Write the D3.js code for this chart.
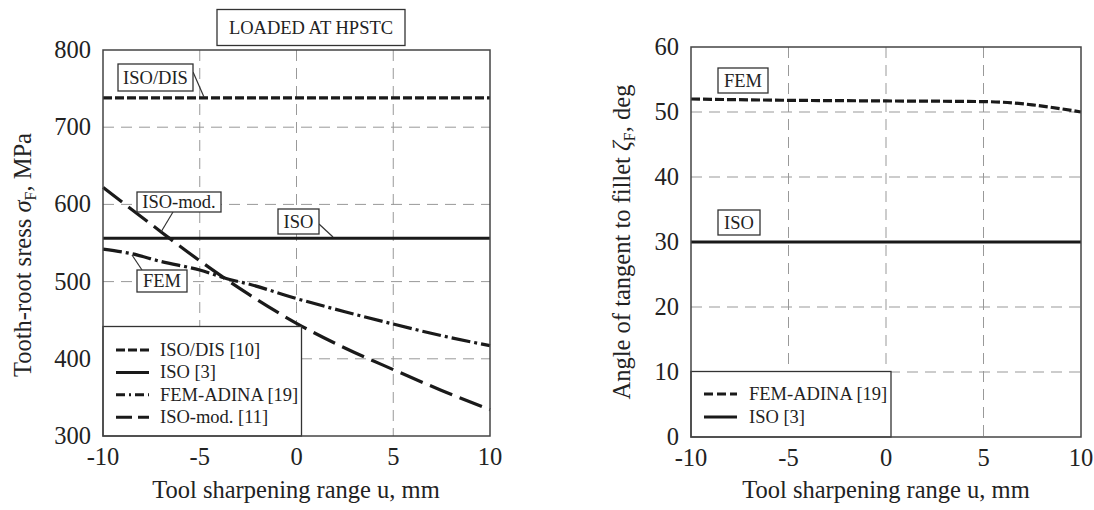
<!DOCTYPE html>
<html><head><meta charset="utf-8">
<script src="https://cdn.jsdelivr.net/npm/d3@7"></script>
<style>
body{margin:0;background:#fff;}
text{font-family:"Liberation Serif","Times New Roman",serif;fill:#222;}
</style></head>
<body><svg id="c" width="1094" height="510"></svg>
<script>
// ---- data ----
const uTicks = [-10, -5, 0, 5, 10];
const stressTicks = [300, 400, 500, 600, 700, 800];
const angleTicks = [0, 10, 20, 30, 40, 50, 60];

const isoDisU = [-10, 10];
const isoDisStress = [738, 738];
const isoU = [-10, 10];
const isoStress = [556, 556];
const femU = [-10, -8.5, -7, -5, -3.5, -2.5, 0, 2.5, 5, 7.5, 10];
const femStress = [542, 536, 526, 515, 503, 497, 478, 461, 445, 430, 417];
const isoModU = [-10, -7.5, -5, -2.5, 0, 2.5, 5, 7.5, 10];
const isoModStress = [622, 574, 527, 484, 446, 414, 386, 359, 334];

const femAngleU = [-10, -5, 0, 5, 6, 7.5, 10];
const femAngle = [52.0, 51.8, 51.7, 51.6, 51.5, 51.1, 50.0];
const isoAngleU = [-10, 10];
const isoAngle = [30, 30];

const leftLegend = ["ISO/DIS [10]", "ISO [3]", "FEM-ADINA [19]", "ISO-mod. [11]"];
const rightLegend = ["FEM-ADINA [19]", "ISO [3]"];

// ---- drawing ----
const svg = d3.select("#c");
const DASH = {isodis:"9,3", solid:null, dashdot:"19,4,3,4", longdash:"24,8", fem:"9,3"};
const FS = 24.5;

function panel(x0, x1, y0, y1, yDomain, yTicks) {
  const x = d3.scaleLinear().domain([-10, 10]).range([x0, x1]);
  const y = d3.scaleLinear().domain(yDomain).range([y1, y0]);
  const g = svg.append("g");
  g.selectAll(".gx").data(uTicks.slice(1, -1)).join("line")
    .attr("x1", d => x(d)).attr("x2", d => x(d)).attr("y1", y0).attr("y2", y1)
    .attr("stroke", "#999").attr("stroke-width", 1).attr("stroke-dasharray", "11,7");
  g.selectAll(".gy").data(yTicks.slice(1, -1)).join("line")
    .attr("y1", d => y(d)).attr("y2", d => y(d)).attr("x1", x0).attr("x2", x1)
    .attr("stroke", "#999").attr("stroke-width", 1).attr("stroke-dasharray", "11,7");
  g.selectAll(".tx").data(uTicks).join("text")
    .attr("x", d => x(d)).attr("y", y1 + 29).attr("text-anchor", "middle")
    .attr("font-size", FS).text(d => d);
  g.selectAll(".ty").data(yTicks).join("text")
    .attr("x", x0 - 12).attr("y", d => y(d) + 8).attr("text-anchor", "end")
    .attr("font-size", FS).text(d => d);
  return {x, y, g};
}

function series(p, xs, ys, dash, w) {
  const line = d3.line().x(d => p.x(d[0])).y(d => p.y(d[1])).curve(d3.curveMonotoneX);
  p.g.append("path").datum(xs.map((v, i) => [v, ys[i]]))
    .attr("d", line).attr("fill", "none").attr("stroke", "#1a1a1a")
    .attr("stroke-width", w).attr("stroke-dasharray", dash);
}

function box(g, x, y, w, h, label, fs) {
  g.append("rect").attr("x", x).attr("y", y).attr("width", w).attr("height", h)
    .attr("fill", "#fff").attr("stroke", "#333").attr("stroke-width", 1.3);
  g.append("text").attr("x", x + w / 2).attr("y", y + h / 2 + fs * 0.33)
    .attr("text-anchor", "middle").attr("font-size", fs).text(label);
}
function leader(g, x1, y1, x2, y2) {
  g.append("line").attr("x1", x1).attr("y1", y1).attr("x2", x2).attr("y2", y2)
    .attr("stroke", "#333").attr("stroke-width", 1.2);
}

// Left panel
const L = panel(103, 490, 50, 436, [300, 800], stressTicks);
series(L, isoDisU, isoDisStress, DASH.isodis, 3.2);
series(L, isoU, isoStress, DASH.solid, 3);
series(L, femU, femStress, DASH.dashdot, 3.2);
series(L, isoModU, isoModStress, DASH.longdash, 3.2);

leader(L.g, 193, 72, 204, 97);
box(L.g, 118, 64, 75, 27, "ISO/DIS", 18.5);
leader(L.g, 173, 212, 161, 232);
box(L.g, 137, 192, 84, 20, "ISO-mod.", 18.5);
leader(L.g, 319, 224, 333, 237);
box(L.g, 278, 209, 41, 25, "ISO", 18.5);
leader(L.g, 132, 255, 142, 270);
box(L.g, 137, 270, 50, 22, "FEM", 18.5);

const lgL = L.g.append("g");
lgL.append("rect").attr("x", 103).attr("y", 326.5).attr("width", 198.5).attr("height", 109.5)
  .attr("fill", "#fff").attr("stroke", "#333").attr("stroke-width", 1.3);
const lgDash = [DASH.isodis, DASH.solid, "9,4,2,4", "16,6"];
leftLegend.forEach((t, i) => {
  const yy = 350 + i * 22.4;
  lgL.append("line").attr("x1", 116).attr("x2", 149).attr("y1", yy).attr("y2", yy)
    .attr("stroke", "#1a1a1a").attr("stroke-width", 3).attr("stroke-dasharray", lgDash[i]);
  lgL.append("text").attr("x", 160).attr("y", yy + 6).attr("font-size", 18.5).text(t);
});

L.g.append("rect").attr("x", 103).attr("y", 50).attr("width", 387).attr("height", 386)
  .attr("fill", "none").attr("stroke", "#444").attr("stroke-width", 1.5);

box(svg, 217, 9.5, 188, 36, "LOADED AT HPSTC", 18.5);

svg.append("text").attr("x", 296).attr("y", 498).attr("text-anchor", "middle")
  .attr("font-size", FS).text("Tool sharpening range u, mm");
const ylL = svg.append("text").attr("transform", "translate(31,255) rotate(-90)")
  .attr("text-anchor", "middle").attr("font-size", FS);
ylL.append("tspan").text("Tooth-root sress ");
ylL.append("tspan").attr("font-style", "italic").text("σ");
ylL.append("tspan").attr("font-size", 16).attr("dy", 5).text("F");
ylL.append("tspan").attr("dy", -5).text(", MPa");

// Right panel
const R = panel(691, 1081, 47, 437, [0, 60], angleTicks);
series(R, femAngleU, femAngle, DASH.fem, 3.2);
series(R, isoAngleU, isoAngle, DASH.solid, 3);
box(R.g, 718, 68, 50, 25, "FEM", 18.5);
box(R.g, 718, 210, 42, 25, "ISO", 18.5);

const lgR = R.g.append("g");
lgR.append("rect").attr("x", 691).attr("y", 371.5).attr("width", 200).attr("height", 65.5)
  .attr("fill", "#fff").attr("stroke", "#333").attr("stroke-width", 1.3);
const lgDashR = ["9,4", null];
rightLegend.forEach((t, i) => {
  const yy = 394 + i * 23;
  lgR.append("line").attr("x1", 704).attr("x2", 737).attr("y1", yy).attr("y2", yy)
    .attr("stroke", "#1a1a1a").attr("stroke-width", 3).attr("stroke-dasharray", lgDashR[i]);
  lgR.append("text").attr("x", 749).attr("y", yy + 6).attr("font-size", 18.5).text(t);
});
R.g.append("rect").attr("x", 691).attr("y", 47).attr("width", 390).attr("height", 390)
  .attr("fill", "none").attr("stroke", "#444").attr("stroke-width", 1.5);

svg.append("text").attr("x", 886).attr("y", 498).attr("text-anchor", "middle")
  .attr("font-size", FS).text("Tool sharpening range u, mm");
const ylR = svg.append("text").attr("transform", "translate(630,242) rotate(-90)")
  .attr("text-anchor", "middle").attr("font-size", FS);
ylR.append("tspan").text("Angle of tangent to fillet ");
ylR.append("tspan").attr("font-style", "italic").text("ζ");
ylR.append("tspan").attr("font-size", 16).attr("dy", 5).text("F");
ylR.append("tspan").attr("dy", -5).text(", deg");
</script></body></html>
